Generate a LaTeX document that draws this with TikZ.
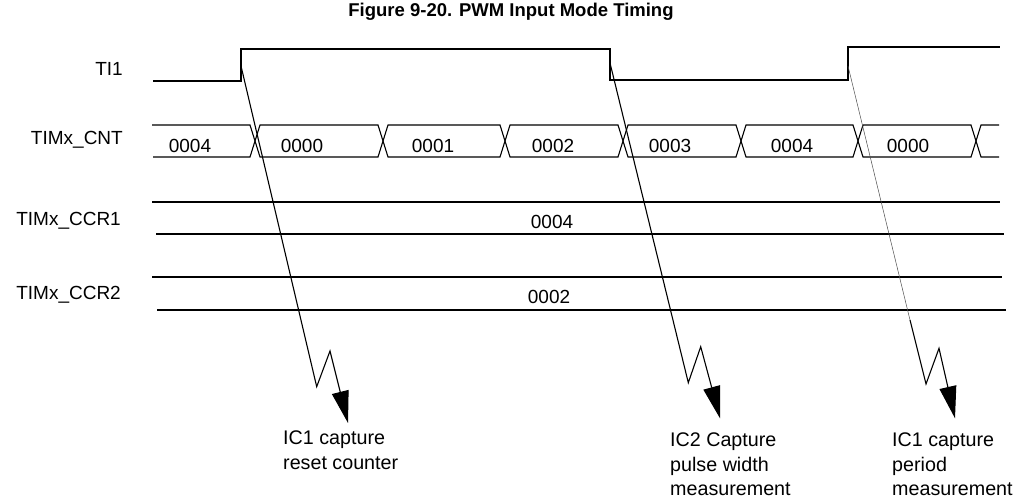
\documentclass[tikz,border=0pt]{standalone}
\usepackage{fontspec}
\setmainfont{Liberation Sans}
\usetikzlibrary{arrows.meta}
\begin{document}
\begin{tikzpicture}[x=1pt,y=-1pt,
  sig/.style={line width=1.1pt, line join=miter},
  lbl/.style={anchor=east, inner sep=0pt, font=\fontsize{19}{22}\selectfont},
  val/.style={inner sep=0pt, font=\fontsize{19}{22}\selectfont},
  note/.style={anchor=north west, inner sep=0pt, align=left, font=\fontsize{19.7}{24.5}\selectfont},
  evt/.style={line width=1.1pt, -{Triangle[length=32pt,width=17pt]}},
  evtthin/.style={line width=0.5pt, draw=black!70}]
\useasboundingbox (0,0) rectangle (1022,501);
% title
\node[inner sep=0pt, font=\fontsize{18.5}{22}\selectfont\bfseries] (title) at (511,12) {Figure 9-20. PWM Input Mode Timing};
% row labels
\node[lbl] (lti) at (123,69) {TI1};
\node[lbl] (lcnt) at (123,139.5) {TIMx\_CNT};
\node[lbl] (lccr1) at (121,221) {TIMx\_CCR1};
\node[lbl] (lccr2) at (121,295) {TIMx\_CCR2};
% TI1 waveform
\coordinate (r1) at (241,66);
\coordinate (f1) at (610,63);
\coordinate (r2) at (848,66);
\draw[sig] (153,81) -- (241,81) -- (241,49) -- (610,49) -- (610,80) -- (848,80) -- (848,47) -- (1000,47);
% counter bus
\draw[sig] (152,125) -- (250,125) -- (260,157) -- (378,157) -- (388,125) -- (500,125) -- (510,157) -- (618,157) -- (628,125) -- (736,125) -- (746,157) -- (853,157) -- (863,125) -- (971,125) -- (981,157) -- (999,157);
\draw[sig] (153,157) -- (250,157) -- (260,125) -- (378,125) -- (388,157) -- (500,157) -- (510,125) -- (618,125) -- (628,157) -- (736,157) -- (746,125) -- (853,125) -- (863,157) -- (971,157) -- (981,125) -- (999,125);
\node[val] (c0) at (190,145.5) {0004};
\node[val] (c1) at (302,145.5) {0000};
\node[val] (c2) at (433,145.5) {0001};
\node[val] (c3) at (553,145.5) {0002};
\node[val] (c4) at (670,145.5) {0003};
\node[val] (c5) at (792,145.5) {0004};
\node[val] (c6) at (908,145.5) {0000};
% CCR1
\draw[sig] (152,202) -- (1000,202);
\draw[sig] (156,234) -- (1004,234);
\node[val] (v1) at (552,221.5) {0004};
% CCR2
\draw[sig] (152,277) -- (1002,277);
\draw[sig] (157,310) -- (1006,310);
\node[val] (v2) at (549,297) {0002};
% event arrows
\coordinate (z1a) at (316.7,386.7);
\coordinate (z1b) at (330,351);
\coordinate (t1) at (348,423);
\draw[evt] (r1) -- (z1a) -- (z1b) -- (t1);
\coordinate (z2a) at (688.3,382.7);
\coordinate (z2b) at (700.7,346.7);
\coordinate (t2) at (720,418.3);
\draw[evt] (f1) -- (z2a) -- (z2b) -- (t2);
\coordinate (m3) at (910,320);
\coordinate (z3a) at (926,384);
\coordinate (z3b) at (939,348.3);
\coordinate (t3) at (955,418.3);
\draw[evtthin] (r2) -- (m3);
\draw[evt] (m3) -- (z3a) -- (z3b) -- (t3);
% notes
\node[note] (n1) at (283,431) {IC1 capture\\reset counter};
\node[note] (n2) at (670,433) {IC2 Capture\\pulse width\\measurement};
\node[note] (n3) at (892,433) {IC1 capture\\period\\measurement};
\end{tikzpicture}
\end{document}
